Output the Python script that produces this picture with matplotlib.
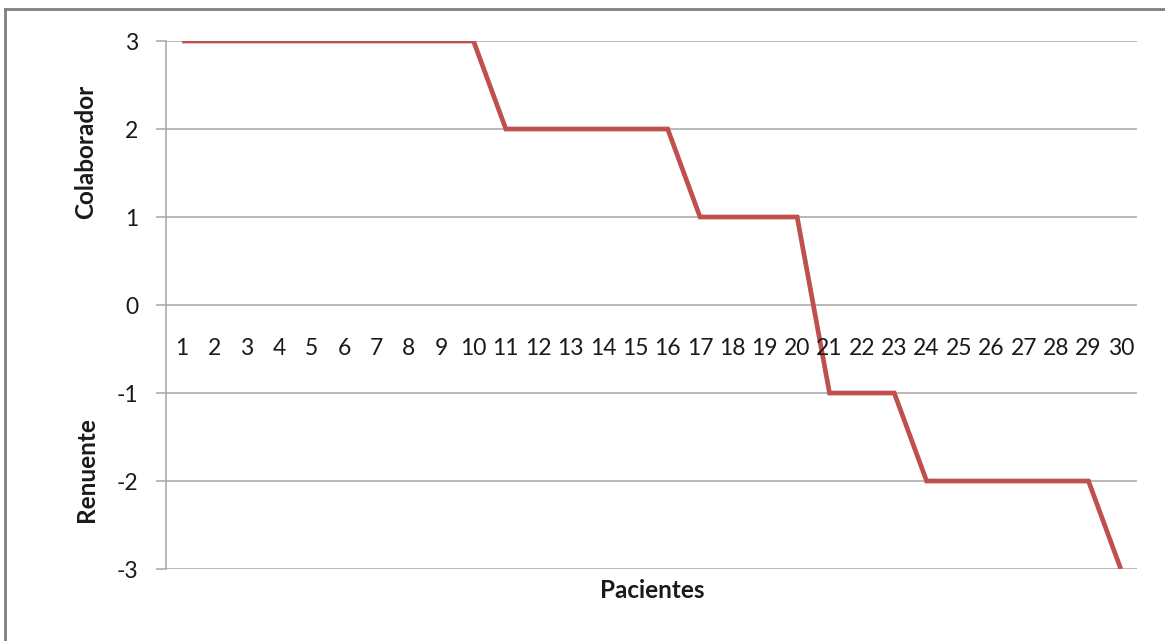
import matplotlib
matplotlib.use("Agg")
import matplotlib.pyplot as plt
from matplotlib.lines import Line2D

# Patient categories and their rating (positive = collaborative, negative = reluctant)
pacientes = list(range(1, 31))
valores = [3, 3, 3, 3, 3, 3, 3, 3, 3, 3,
           2, 2, 2, 2, 2, 2,
           1, 1, 1, 1,
           -1, -1, -1,
           -2, -2, -2, -2, -2, -2,
           -3]
y_ticks = [-3, -2, -1, 0, 1, 2, 3]

plt.rcParams['font.family'] = ['Lato', 'DejaVu Sans']

W, H = 1165, 641
fig = plt.figure(figsize=(W / 100, H / 100), dpi=100)
fig.patch.set_facecolor('white')

ax = fig.add_axes([166 / W, 1 - 569 / H, (1137 - 166) / W, (569 - 41) / H])
ax.set_xlim(0.5, 30.5)
ax.set_ylim(-3, 3)

grid_c = '#A6A6A6'
for v in y_ticks:
    ax.axhline(v, color=grid_c, lw=1.1, zorder=1)

ax.plot(pacientes, valores, color='#C0504D', lw=3.4, zorder=3,
        solid_joinstyle='miter', solid_capstyle='butt')

for s in ['top', 'right', 'bottom']:
    ax.spines[s].set_visible(False)
ax.spines['left'].set_color(grid_c)
ax.spines['left'].set_linewidth(1.1)

ax.set_yticks(y_ticks)
ax.set_yticklabels([str(v) for v in y_ticks])
ax.tick_params(axis='y', length=7, width=1.1, color=grid_c, labelsize=16.5,
               labelcolor='#1a1a1a', pad=13)
ax.set_xticks([])

# Category labels sit just below the zero line
for p in pacientes:
    ax.annotate(str(p), xy=(p, 0), xytext=(0, -31), textcoords='offset points',
                ha='center', va='center', fontsize=16.5, color='#1a1a1a')

fig.text(652 / W, 1 - 591 / H, 'Pacientes', ha='center', va='center',
         fontsize=17.5, fontweight='bold', color='#1a1a1a')
fig.text(86 / W, 1 - 152 / H, 'Colaborador', ha='center', va='center',
         rotation=90, fontsize=17.5, fontweight='bold', color='#1a1a1a')
fig.text(86 / W, 1 - 470 / H, 'Renuente', ha='center', va='center',
         rotation=90, fontsize=17.5, fontweight='bold', color='#1a1a1a')

# Chart frame (top and left edges)
fig.add_artist(Line2D([5 / W, 1.0], [1 - 9 / H, 1 - 9 / H], transform=fig.transFigure,
                      color='#808080', lw=2))
fig.add_artist(Line2D([5 / W, 5 / W], [0.0, 1 - 9 / H], transform=fig.transFigure,
                      color='#808080', lw=2))

fig.savefig('out.png', dpi=100, facecolor='white')
